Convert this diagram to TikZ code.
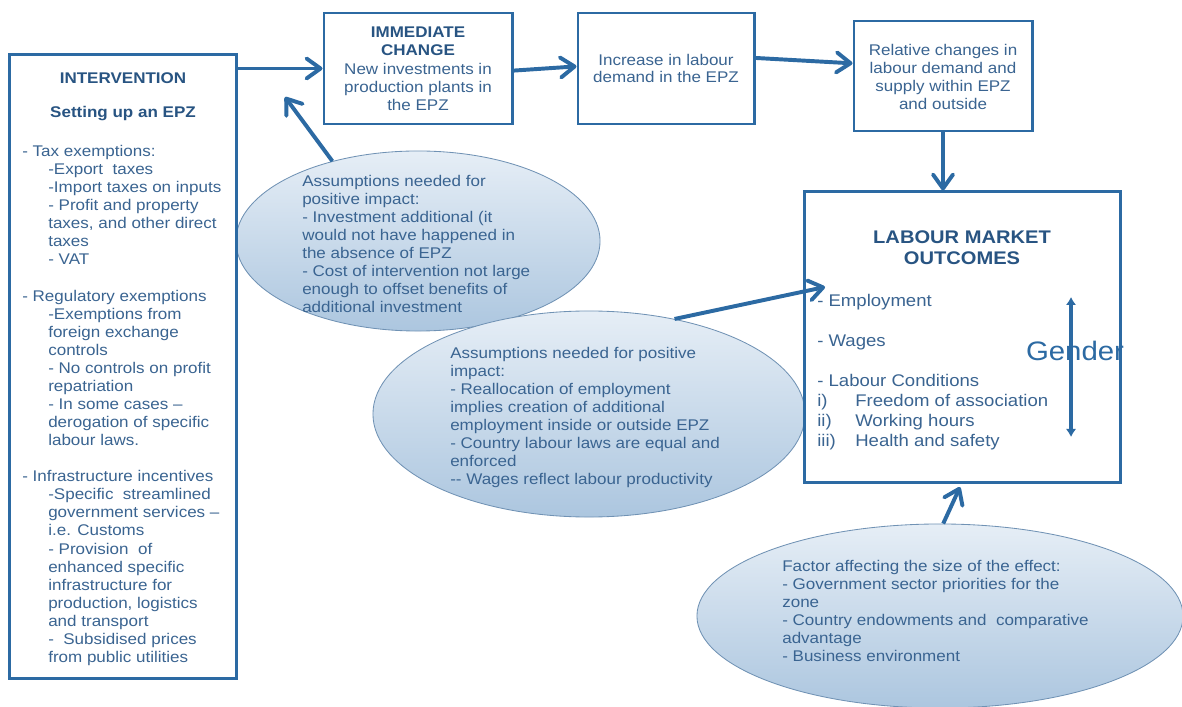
\documentclass[tikz,border=0pt]{standalone}
\usepackage{fontspec}
\setmainfont{Liberation Sans}[FakeStretch=1.1]
\usepackage{xcolor}
\usetikzlibrary{arrows.meta,shapes.geometric}

\definecolor{boxblue}{RGB}{44,106,163}
\definecolor{txtblue}{RGB}{58,100,145}
\definecolor{headblue}{RGB}{40,84,130}
\definecolor{elltop}{RGB}{230,238,246}
\definecolor{ellbot}{RGB}{172,198,223}
\definecolor{ellline}{RGB}{112,146,180}

\newcommand{\ind}{\hspace*{0.65cm}}
\newcommand{\hd}[1]{\textcolor{headblue}{\textbf{#1}}}

\begin{document}
\begin{tikzpicture}[x=0.025cm,y=-0.025cm,
  box/.style={draw=boxblue,line width=2.1pt,fill=white,inner sep=0pt},
  bubble/.style={ellipse,draw=ellline,line width=0.6pt,top color=elltop,bottom color=ellbot,inner sep=0pt},
  txt/.style={text=txtblue,font=\fontsize{11}{12.85}\selectfont,inner sep=0pt,align=left,anchor=north west},
  ctxt/.style={text=txtblue,font=\fontsize{11}{12.85}\selectfont,inner sep=0pt,align=center,anchor=north},
  arr/.style={draw=boxblue,line width=2.8pt,-{Straight Barb[round,length=3.5mm,width=5mm]}},
  garr/.style={draw=boxblue,line width=2.2pt,{Latex[length=2mm,width=2.6mm]}-{Latex[length=2mm,width=2.6mm]}}]

\useasboundingbox (0,0) rectangle (1182,707);

\node[bubble,minimum width=9.1cm,minimum height=4.5cm] (ell1) at (418,241) {};
\node[bubble,minimum width=10.8cm,minimum height=5.15cm] (ell2) at (589,414) {};
\node[bubble,minimum width=12.15cm,minimum height=4.6cm] (ell3) at (940,616) {};

\node[box,minimum width=5.65cm,minimum height=15.575cm] (interv) at (123,366.5) {};
\node[box,minimum width=4.7cm,minimum height=2.775cm] (immed) at (418,68.5) {};
\node[box,minimum width=4.4cm,minimum height=2.775cm] (incr) at (666,68.5) {};
\node[box,minimum width=4.45cm,minimum height=2.75cm] (rel) at (943,76) {};
\node[box,minimum width=7.875cm,minimum height=7.25cm] (lmo) at (962.5,337) {};

\node[ctxt,anchor=center] (inttitle) at (123,78) {\hd{INTERVENTION}};
\node[ctxt,anchor=center] (intsub) at (123,114) {\hd{Setting up an EPZ}};
\node[txt] (intlist) at (22,145) {- Tax exemptions:\\
\ind -Export\ \ taxes\\
\ind -Import taxes on inputs\\
\ind - Profit and property\\
\ind taxes, and other direct\\
\ind taxes\\
\ind - VAT\\[12.85pt]
- Regulatory exemptions\\
\ind -Exemptions from\\
\ind foreign exchange\\
\ind controls\\
\ind - No controls on profit\\
\ind repatriation\\
\ind - In some cases –\\
\ind derogation of specific\\
\ind labour laws.\\[12.85pt]
- Infrastructure incentives\\
\ind -Specific\ \ streamlined\\
\ind government services –\\
\ind i.e. Customs\\
\ind - Provision\ \ of\\
\ind enhanced specific\\
\ind infrastructure for\\
\ind production, logistics\\
\ind and transport\\
\ind -\ \ Subsidised prices\\
\ind from public utilities};

\node[ctxt] (immtxt) at (418,27) {\hd{IMMEDIATE}\\\hd{CHANGE}\\New investments in\\production plants in\\the EPZ};
\node[ctxt,font=\fontsize{11}{12.2}\selectfont] (incrtxt) at (666,54) {Increase in labour\\demand in the EPZ};
\node[ctxt] (reltxt) at (943,44) {Relative changes in\\labour demand and\\supply within EPZ\\and outside};

\node[ctxt,font=\fontsize{13}{15}\selectfont] (lmotitle) at (962,230) {\hd{LABOUR MARKET}\\\hd{OUTCOMES}};
\node[txt,font=\fontsize{12}{14.2}\selectfont] (lmolist) at (817,294) {- Employment\\[14.2pt]
- Wages\\[14.2pt]
- Labour Conditions\\
\makebox[0.95cm][l]{i)}Freedom of association\\
\makebox[0.95cm][l]{ii)}Working hours\\
\makebox[0.95cm][l]{iii)}Health and safety};
\node[text=boxblue,font=\fontsize{19}{22}\selectfont,inner sep=0pt] (gender) at (1075,351) {Gender};

\node[txt] (ell1txt) at (302,175) {Assumptions needed for\\
positive impact:\\
- Investment additional (it\\
would not have happened in\\
the absence of EPZ\\
- Cost of intervention not large\\
enough to offset benefits of\\
additional investment};
\node[txt] (ell2txt) at (450,347) {Assumptions needed for positive\\
impact:\\
- Reallocation of employment\\
implies creation of additional\\
employment inside or outside EPZ\\
- Country labour laws are equal and\\
enforced\\
-{}- Wages reflect labour productivity};
\node[txt] (ell3txt) at (782,560) {Factor affecting the size of the effect:\\
- Government sector priorities for the\\
zone\\
- Country endowments and\ \ comparative\\
advantage\\
- Business environment};

\coordinate (ell1tip) at (285,97);
\coordinate (ell2tip) at (825,287);
\coordinate (ell3tip) at (960,487);
\coordinate (gtop) at (1071,297);
\coordinate (gbot) at (1071,437);

\draw[arr] (interv.east |- immed.west) -- (immed.west);
\draw[arr] ([yshift=-1.5pt]immed.east) -- ([yshift=1.5pt]incr.west);
\draw[arr] ([yshift=7.5pt]incr.east) -- ([yshift=9pt]rel.west);
\draw[arr] (rel.south) -- (rel.south |- lmo.north);
\draw[arr] (ell1.137) -- (ell1tip);
\draw[arr] (ell2.48) -- (ell2tip);
\draw[arr] (ell3.88) -- (ell3tip);
\draw[garr] (gtop) -- (gbot);

\end{tikzpicture}
\end{document}
